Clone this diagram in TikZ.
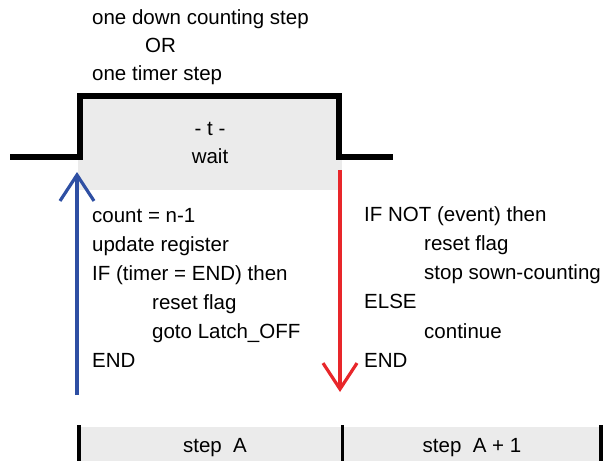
\documentclass[tikz,border=0pt]{standalone}
\usepackage{fontspec}
\setmainfont{Liberation Sans}
\usetikzlibrary{arrows.meta}
\definecolor{bgray}{HTML}{EBEBEB}
\definecolor{ablue}{HTML}{2E4FA3}
\definecolor{ared}{HTML}{E8262A}
\begin{document}
\begin{tikzpicture}[x=1pt,y=-1pt,
  txt/.style={inner sep=0pt,anchor=base west,font=\fontsize{20.5}{24}\selectfont},
  ctxt/.style={inner sep=0pt,anchor=base,font=\fontsize{20.5}{24}\selectfont},
  pulse/.style={line width=5.5pt,line join=miter,line cap=butt},
  bar/.style={line width=3.5pt},
  arr/.style={line width=3.2pt,-{Straight Barb[length=26pt,width=34pt,line width=3.2pt]}}]
\useasboundingbox (0,0) rectangle (609,461);
% gray areas
\fill[bgray] (78,96) rectangle (342,190);
\fill[bgray] (79,427) rectangle (601,461);
% pulse
\draw[pulse] (10,157) -- (80,157) -- (80,96) -- (339,96) -- (339,157) -- (393,157);
% top texts
\node[txt] (t1) at (92,24) {one down counting step};
\node[txt] (t2) at (145,52) {OR};
\node[txt] (t3) at (92,80) {one timer step};
\node[ctxt] (tt) at (210,135) {- t -};
\node[ctxt] (tw) at (210,163) {wait};
% left block
\node[txt] (l1) at (92,222) {count = n-1};
\node[txt] (l2) at (92,251) {update register};
\node[txt] (l3) at (92,280) {IF (timer = END) then};
\node[txt] (l4) at (152,309) {reset flag};
\node[txt] (l5) at (152,338) {goto Latch\_OFF};
\node[txt] (l6) at (92,367) {END};
% right block
\node[txt] (r1) at (364,221) {IF NOT (event) then};
\node[txt] (r2) at (424,250) {reset flag};
\node[txt] (r3) at (424,279) {stop sown-counting};
\node[txt] (r4) at (364,308) {ELSE};
\node[txt] (r5) at (424,338) {continue};
\node[txt] (r6) at (364,367) {END};
% arrows
\coordinate (bs) at (77,395);
\coordinate (be) at (77,172);
\coordinate (rs) at (340,170);
\coordinate (re) at (340,392);
\draw[arr,ablue] (bs) -- (be);
\draw[arr,ared] (rs) -- (re);
% bottom steps
\draw[bar] (79,425) -- (79,461);
\draw[bar] (342.5,425) -- (342.5,461);
\draw[bar] (601,425) -- (601,461);
\node[ctxt] (sa) at (215,452) {step\ \ A};
\node[ctxt] (sb) at (472,452) {step\ \ A + 1};
\end{tikzpicture}
\end{document}
